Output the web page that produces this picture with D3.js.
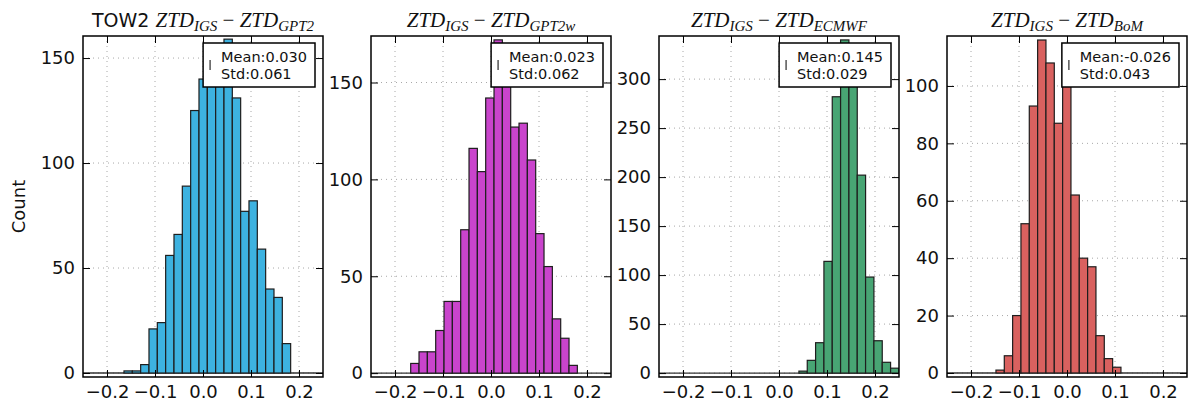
<!DOCTYPE html>
<html>
<head>
<meta charset="utf-8">
<script src="https://cdn.jsdelivr.net/npm/d3@7"></script>
<style>
  body { margin: 0; background: #fff; }
  svg text { font-family: "DejaVu Sans", sans-serif; fill: #111; }
</style>
</head>
<body>
<svg id="chart" width="1190" height="405"></svg>
<script>
// counts, all panels share the same bin width
const station = "TOW2";
const models = ["GPT2", "GPT2w", "ECMWF", "BoM"];
const binWidth = 0.01736;
const binStart = [-0.1646, -0.1673, 0.0415, -0.148];
const countsGPT2 = [1, 1, 4, 21, 24, 56, 66, 89, 125, 140, 150, 145, 159, 131, 77, 82, 59, 40, 36, 14];
const countsGPT2w = [5, 11, 11, 22, 37, 37, 74, 116, 104, 142, 172, 160, 127, 129, 110, 72, 55, 28, 18, 4];
const countsECMWF = [2, 13, 31, 114, 282, 340, 305, 202, 98, 33, 11, 5];
const countsBoM = [1, 6, 20, 52, 93, 116, 108, 87, 104, 62, 40, 37, 13, 5, 2];
const means = ["0.030", "0.023", "0.145", "-0.026"];
const stds = ["0.061", "0.062", "0.029", "0.043"];
const xTicks = [-0.2, -0.1, 0.0, 0.1, 0.2];
const yMax = [160.5, 174, 344, 117.4];
const yMin = [-1.9, -2, -4, -1.4];
const yStep = [50, 50, 50, 20];
const colors = ["#3db2e0", "#c944cc", "#48a574", "#d9615f"];

const allCounts = [countsGPT2, countsGPT2w, countsECMWF, countsBoM];

var svg = d3.select("#chart");
var W = 240, plotTop = 36, plotBottom = 377;
var mathFont = "'Liberation Serif', 'DejaVu Serif', serif";
var fmt = d3.format(".1f");

svg.append("rect").attr("width", 1190).attr("height", 405).attr("fill", "#fff");

svg.append("text")
    .attr("transform", `translate(25, ${(plotTop + plotBottom) / 2}) rotate(-90)`)
    .attr("text-anchor", "middle")
    .attr("font-size", 18)
    .text("Count");

models.forEach((m, i) => {
    var left = 83 + i * 288;
    var x = d3.scaleLinear().domain([-0.25, 0.25]).range([left, left + W]);
    var y = d3.scaleLinear().domain([yMin[i], yMax[i]]).range([plotBottom, plotTop]);
    var yTicks = d3.range(0, yMax[i], yStep[i]);
    var g = svg.append("g");

    g.append("clipPath").attr("id", "clip" + i)
        .append("rect")
        .attr("x", left).attr("y", plotTop)
        .attr("width", W).attr("height", plotBottom - plotTop);

    // dotted grid
    g.selectAll(".gx").data(xTicks).enter().append("line")
        .attr("x1", d => x(d)).attr("x2", d => x(d))
        .attr("y1", plotTop).attr("y2", plotBottom)
        .attr("stroke", "#a8a8a8").attr("stroke-dasharray", "1,4");
    g.selectAll(".gy").data(yTicks).enter().append("line")
        .attr("x1", left).attr("x2", left + W)
        .attr("y1", d => y(d)).attr("y2", d => y(d))
        .attr("stroke", "#a8a8a8").attr("stroke-dasharray", "1,4");

    // bars
    var bins = allCounts[i].map((c, k) => ({
        x0: binStart[i] + k * binWidth,
        x1: binStart[i] + (k + 1) * binWidth,
        n: c
    }));
    var bg = g.append("g").attr("clip-path", `url(#clip${i})`);
    bg.append("line")
        .attr("x1", left).attr("x2", left + W)
        .attr("y1", y(0)).attr("y2", y(0))
        .attr("stroke", "#333").attr("stroke-width", 1.3);
    bg.selectAll("rect").data(bins).enter().append("rect")
        .attr("x", d => x(d.x0))
        .attr("width", d => x(d.x1) - x(d.x0))
        .attr("y", d => y(d.n))
        .attr("height", d => y(0) - y(d.n))
        .attr("fill", colors[i])
        .attr("stroke", "#1e1e1e")
        .attr("stroke-width", 1.2);

    // axes, ticks pointing inward on all sides
    g.append("g").attr("transform", `translate(0,${plotBottom})`)
        .call(d3.axisBottom(x).tickValues(xTicks).tickFormat(fmt).tickSizeInner(-7).tickSizeOuter(0).tickPadding(8));
    g.append("g").attr("transform", `translate(0,${plotTop})`)
        .call(d3.axisTop(x).tickValues(xTicks).tickFormat("").tickSizeInner(-7).tickSizeOuter(0));
    g.append("g").attr("transform", `translate(${left},0)`)
        .call(d3.axisLeft(y).tickValues(yTicks).tickFormat(d3.format("d")).tickSizeInner(-7).tickSizeOuter(0).tickPadding(8));
    g.append("g").attr("transform", `translate(${left + W},0)`)
        .call(d3.axisRight(y).tickValues(yTicks).tickFormat("").tickSizeInner(-7).tickSizeOuter(0));
    g.selectAll(".domain").remove();
    g.selectAll(".tick line").attr("stroke", "#000");
    g.selectAll(".tick text").attr("font-size", 18).attr("font-family", "DejaVu Sans").attr("fill", "#111");

    g.append("rect")
        .attr("x", left).attr("y", plotTop)
        .attr("width", W).attr("height", plotBottom - plotTop)
        .attr("fill", "none").attr("stroke", "#000").attr("stroke-width", 1.5);

    // title
    var title = g.append("text")
        .attr("x", left + W / 2).attr("y", 27)
        .attr("text-anchor", "middle")
        .style("white-space", "pre");
    if (i === 0) title.append("tspan").attr("font-size", 19).text(station + " ");
    title.append("tspan").attr("font-family", mathFont).attr("font-style", "italic").attr("font-size", 21).text("ZTD");
    title.append("tspan").attr("font-family", mathFont).attr("font-style", "italic").attr("font-size", 15).attr("dy", 4).text("IGS");
    title.append("tspan").attr("font-family", mathFont).attr("font-size", 21).attr("dy", -4).text(" \u2212 ");
    title.append("tspan").attr("font-family", mathFont).attr("font-style", "italic").attr("font-size", 21).text("ZTD");
    title.append("tspan").attr("font-family", mathFont).attr("font-style", "italic").attr("font-size", 15).attr("dy", 4).text(m);

    // legend box
    var lg = g.append("g");
    var box = lg.append("rect");
    var t1 = lg.append("text").attr("font-size", 14.5).attr("y", 62).text("Mean:" + means[i]);
    var t2 = lg.append("text").attr("font-size", 14.5).attr("y", 79).text("Std:" + stds[i]);
    var tw = Math.max(t1.node().getComputedTextLength(), t2.node().getComputedTextLength());
    var boxRight = left + W - 8;
    var boxLeft = boxRight - (tw + 26);
    t1.attr("x", boxLeft + 18);
    t2.attr("x", boxLeft + 18);
    box.attr("x", boxLeft).attr("y", 43)
        .attr("width", boxRight - boxLeft).attr("height", 44)
        .attr("fill", "#fff").attr("stroke", "#000").attr("stroke-width", 1.5);
    lg.append("line")
        .attr("x1", boxLeft + 7).attr("x2", boxLeft + 7)
        .attr("y1", 60).attr("y2", 70)
        .attr("stroke", "#555").attr("stroke-width", 1.5);
});
</script>
</body>
</html>
